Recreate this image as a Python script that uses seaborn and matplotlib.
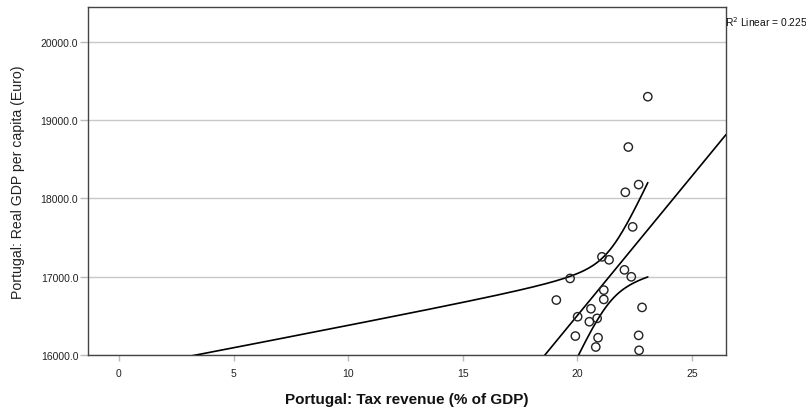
import numpy as np
import pandas as pd
import matplotlib
matplotlib.use("Agg")
import matplotlib.pyplot as plt
import seaborn as sns

# Portugal, yearly observations
tax_revenue = [23.07, 22.22, 22.67, 22.09, 22.41, 21.07, 21.38, 22.05, 22.35,
               19.68, 21.15, 21.15, 19.08, 22.82, 20.59, 20.01, 20.86, 20.52,
               19.91, 20.90, 22.67, 20.80, 22.69]
gdp_per_capita = [19300, 18657, 18177, 18079, 17637, 17254, 17216, 17088, 16999,
                  16978, 16829, 16710, 16702, 16608, 16591, 16489, 16468, 16425,
                  16242, 16221, 16251, 16102, 16060]

x_label = "Portugal: Tax revenue (% of GDP)"
y_label = "Portugal: Real GDP per capita (Euro)"
x_ticks = [0, 5, 10, 15, 20, 25]
y_ticks = [16000, 17000, 18000, 19000, 20000]

df = pd.DataFrame({"tax": tax_revenue, "gdp": gdp_per_capita})

sns.set_theme(style="white")
plt.rcParams["font.family"] = ["Liberation Sans", "DejaVu Sans"]

fig = plt.figure(figsize=(8.06, 4.14), dpi=100)
ax = fig.add_axes([0.1092, 0.1401, 0.7915, 0.8406])

xlim = (-1.35, 26.48)
ylim = (16000, 20446)

# least-squares fit and 95% confidence band for the mean
x = df["tax"].to_numpy(float)
y = df["gdp"].to_numpy(float)
n = len(x)
slope, intercept = np.polyfit(x, y, 1)
resid = y - (intercept + slope * x)
s = np.sqrt(np.sum(resid ** 2) / (n - 2))
sxx = np.sum((x - x.mean()) ** 2)
r2 = 1 - np.sum(resid ** 2) / np.sum((y - y.mean()) ** 2)
t_crit = 2.080  # t(0.975, df=21)

xs_fit = np.linspace(xlim[0], xlim[1], 400)
ax.plot(xs_fit, intercept + slope * xs_fit, color="black", lw=1.2, zorder=3)

xs_ci = np.linspace(xlim[0], x.max(), 400)
half = t_crit * s * np.sqrt(1 / n + (xs_ci - x.mean()) ** 2 / sxx)
mean_ci = intercept + slope * xs_ci
ax.plot(xs_ci, mean_ci + half, color="black", lw=1.2, zorder=3)
ax.plot(xs_ci, mean_ci - half, color="black", lw=1.2, zorder=3)

sns.scatterplot(data=df, x="tax", y="gdp", ax=ax, marker="o", s=36,
                facecolor="none", edgecolor="#222222", linewidth=1.0, zorder=4)

ax.set_xlim(*xlim)
ax.set_ylim(*ylim)
ax.set_xticks(x_ticks)
ax.set_xticklabels([str(v) for v in x_ticks], fontsize=7.5, color="#222222")
ax.set_yticks(y_ticks)
ax.set_yticklabels([f"{v:.1f}" for v in y_ticks], fontsize=7.5, color="#222222")
ax.yaxis.grid(True, color="#c8c8c8", lw=1.0)
ax.set_axisbelow(True)
ax.tick_params(axis="x", length=4.5, width=1, color="#bbbbbb", pad=5, bottom=True)
ax.tick_params(axis="y", length=6, width=1, color="#bbbbbb", pad=1, left=True)

for sp in ax.spines.values():
    sp.set_color("#444444")
    sp.set_linewidth(1.0)

ax.set_xlabel(x_label, fontsize=11, fontweight="bold", color="#111111", labelpad=10)
ax.set_ylabel(y_label, fontsize=10.2, color="#222222", labelpad=11)

ax.text(0.998, 0.96, f"R$^2$ Linear = {r2:.3f}", transform=ax.transAxes,
        fontsize=7.4, ha="left", va="center", color="#111111")

fig.savefig("out.png", dpi=100)
